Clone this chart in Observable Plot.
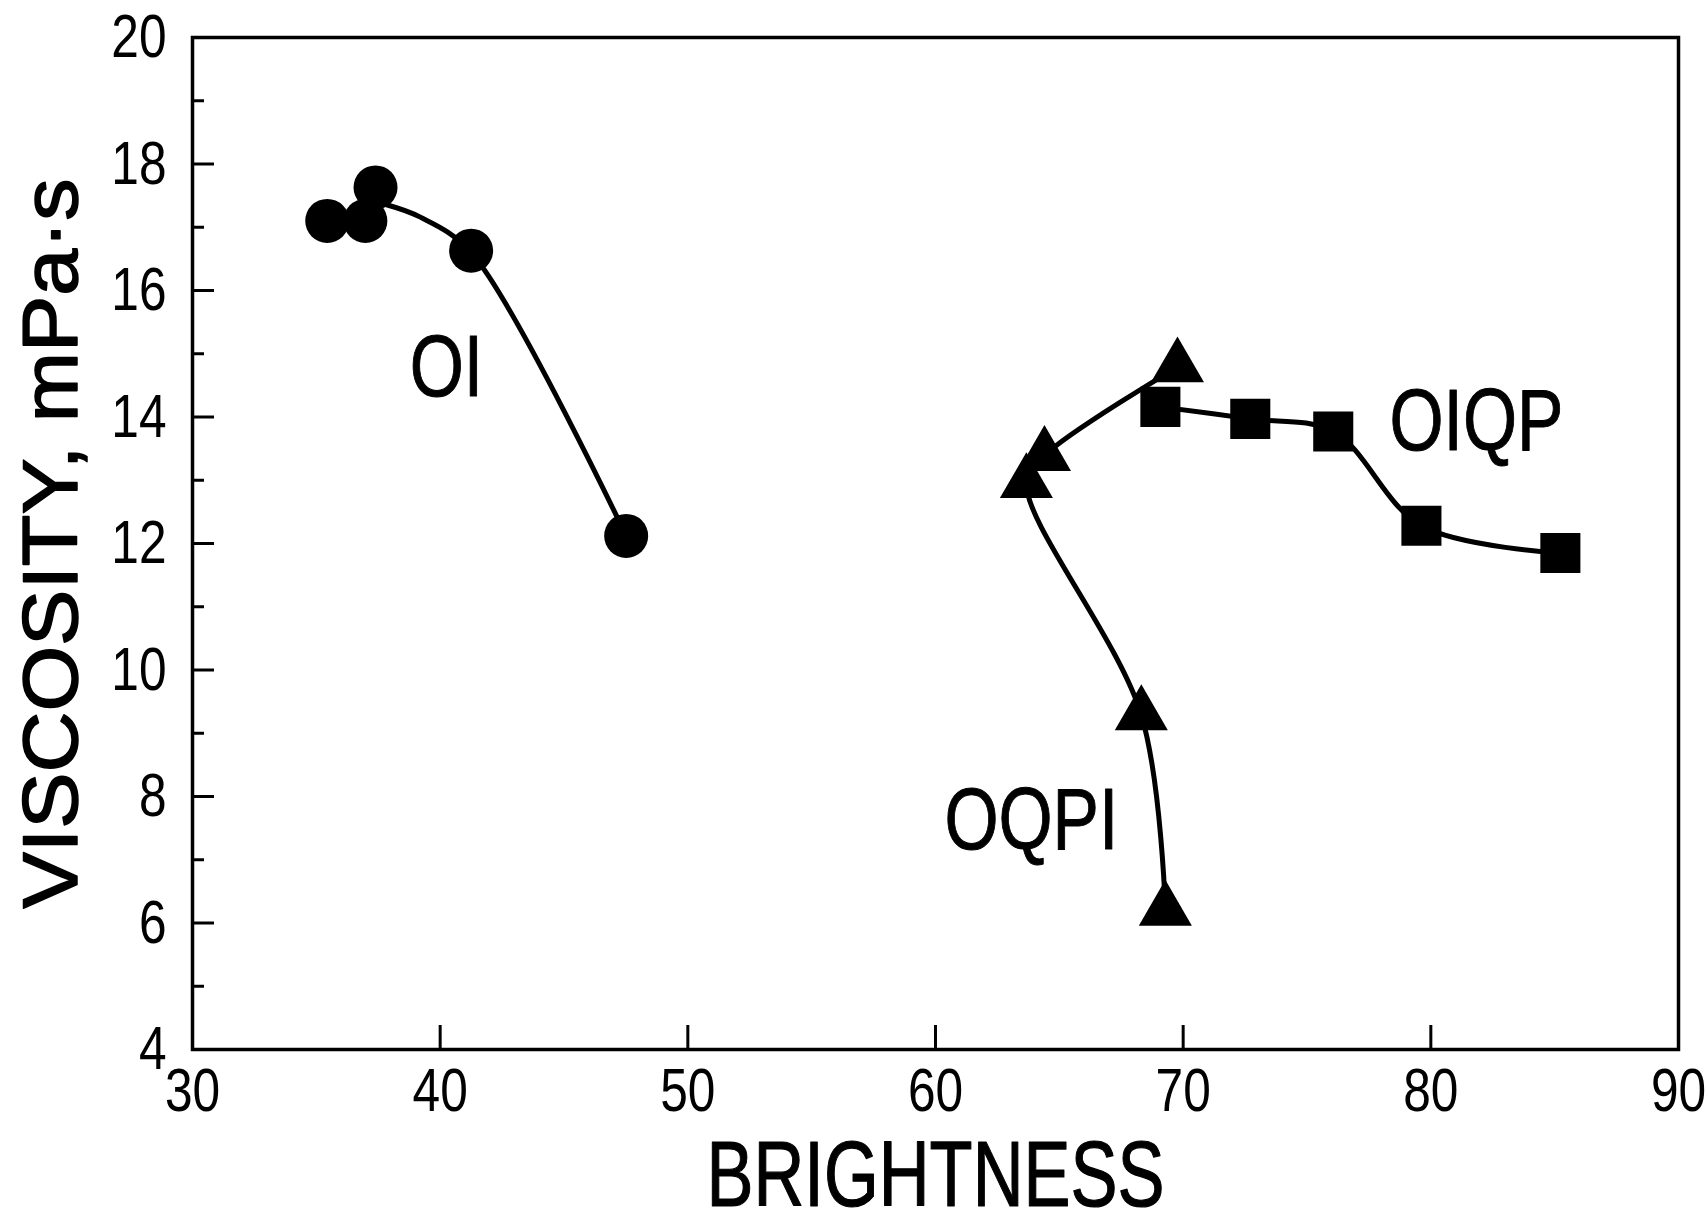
<!DOCTYPE html>
<html>
<head>
<meta charset="utf-8">
<script src="https://cdn.jsdelivr.net/npm/d3@7"></script>
<script src="https://cdn.jsdelivr.net/npm/@observablehq/plot@0.6"></script>
<style>
  html, body { margin: 0; padding: 0; background: #fff; }
  #chart svg { display: block; }
</style>
</head>
<body>
<div id="chart"></div>
<script>
// ---- Data ----
// OI series (filled circles)
const oiBrightness = [35.44, 36.98, 37.39, 41.25, 47.51];
const oiViscosity  = [17.10, 17.10, 17.63, 16.63, 12.12];
// OI fitted curve
const oiCurveBrightness = [37.8, 39.2, 41.25, 47.51];
const oiCurveViscosity  = [17.36, 17.16, 16.60, 12.12];

// OQPI series (filled triangles), in drawing order of its curve
const oqpiBrightness = [69.77, 64.40, 63.67, 68.31, 69.28];
const oqpiViscosity  = [14.79, 13.39, 12.96, 9.29, 6.20];

// OIQP series (filled squares)
const oiqpBrightness = [69.08, 72.71, 76.06, 79.62, 85.23];
const oiqpViscosity  = [14.16, 13.97, 13.77, 12.28, 11.85];

// Series labels written in the plot
const seriesLabels     = ["OI", "OIQP", "OQPI"];
const labelBrightness  = [40.25, 81.84, 63.87];
const labelViscosity   = [14.78, 13.92, 7.61];

// Axis ticks
const xTickLabels = [30, 40, 50, 60, 70, 80, 90];
const xTickMarks  = [40, 50, 60, 70, 80];
const yTickLabels = [4, 6, 8, 10, 12, 14, 16, 18, 20];
const yMajorMarks = [6, 8, 10, 12, 14, 16, 18];
const yMinorMarks = [5, 7, 9, 11, 13, 15, 17, 19];

const xTitle = "BRIGHTNESS";
const yTitle = "VISCOSITY, mPa·s";

const sans = "'Liberation Sans', Arial, sans-serif";

const plot = Plot.plot({
  width: 1706,
  height: 1217,
  marginLeft: 192,
  marginRight: 28,
  marginTop: 37,
  marginBottom: 168,
  x: { domain: [30, 90] },
  y: { domain: [4, 20] },
  style: { fontFamily: sans, background: "white", color: "black" },
  marks: [
    // inward tick marks
    Plot.axisX(xTickMarks, { tickSize: -24, fill: "none", label: null, strokeWidth: 3 }),
    Plot.axisY(yMajorMarks, { tickSize: -22, fill: "none", label: null, strokeWidth: 3 }),
    Plot.axisY(yMinorMarks, { tickSize: -12, fill: "none", label: null, strokeWidth: 3 }),
    // tick labels
    Plot.axisX(xTickLabels, { tickSize: 0, tickPadding: 17, fontSize: 62, tickFormat: "d", label: null }),
    Plot.axisY(yTickLabels, { tickSize: 0, tickPadding: 26, fontSize: 62, tickFormat: "d", label: null }),
    Plot.frame({ stroke: "black", strokeWidth: 3.5 }),
    // curves
    Plot.line(oiCurveBrightness, { x: oiCurveBrightness, y: oiCurveViscosity, curve: "catmull-rom", stroke: "black", strokeWidth: 5 }),
    Plot.line(oqpiBrightness, { x: oqpiBrightness, y: oqpiViscosity, curve: "catmull-rom", stroke: "black", strokeWidth: 5 }),
    Plot.line(oiqpBrightness, { x: oiqpBrightness, y: oiqpViscosity, curve: "catmull-rom", stroke: "black", strokeWidth: 5 }),
    // markers
    Plot.dot(oiBrightness, { x: oiBrightness, y: oiViscosity, symbol: "circle", r: 22, fill: "black" }),
    Plot.dot(oqpiBrightness, { x: oqpiBrightness, y: oqpiViscosity, symbol: "triangle", r: 19.7, fill: "black" }),
    Plot.dot(oiqpBrightness, { x: oiqpBrightness, y: oiqpViscosity, symbol: "square", r: 22.6, fill: "black" }),
    // series labels
    Plot.text(seriesLabels, { x: labelBrightness, y: labelViscosity, text: seriesLabels, fontSize: 88, fill: "black", stroke: "black", strokeWidth: 1, className: "serieslabel" }),
    // axis titles
    Plot.text([xTitle], { frameAnchor: "bottom", dy: 127, lineAnchor: "middle", textAnchor: "middle", fontSize: 92, fill: "black", stroke: "black", strokeWidth: 1.2, className: "xtitle" }),
    Plot.text([yTitle], { frameAnchor: "left", dx: -140, rotate: -90, lineAnchor: "middle", textAnchor: "middle", fontSize: 78, fill: "black", stroke: "black", strokeWidth: 1.5, className: "ytitle" })
  ]
});

document.getElementById("chart").appendChild(plot);
const svg = d3.select(plot);
// the reference lettering is condensed horizontally
function condense(selector, factor) {
  svg.selectAll(selector).each(function () {
    const w = this.getComputedTextLength();
    d3.select(this).attr("textLength", (w * factor).toFixed(1)).attr("lengthAdjust", "spacingAndGlyphs");
  });
}
condense("g[aria-label='x-axis tick label'] text, g[aria-label='y-axis tick label'] text", 0.8);
condense(".serieslabel text", 0.79);
svg.selectAll(".xtitle text").attr("textLength", 458).attr("lengthAdjust", "spacingAndGlyphs");
svg.selectAll(".ytitle text").attr("textLength", 730).attr("lengthAdjust", "spacingAndGlyphs");
</script>
</body>
</html>
